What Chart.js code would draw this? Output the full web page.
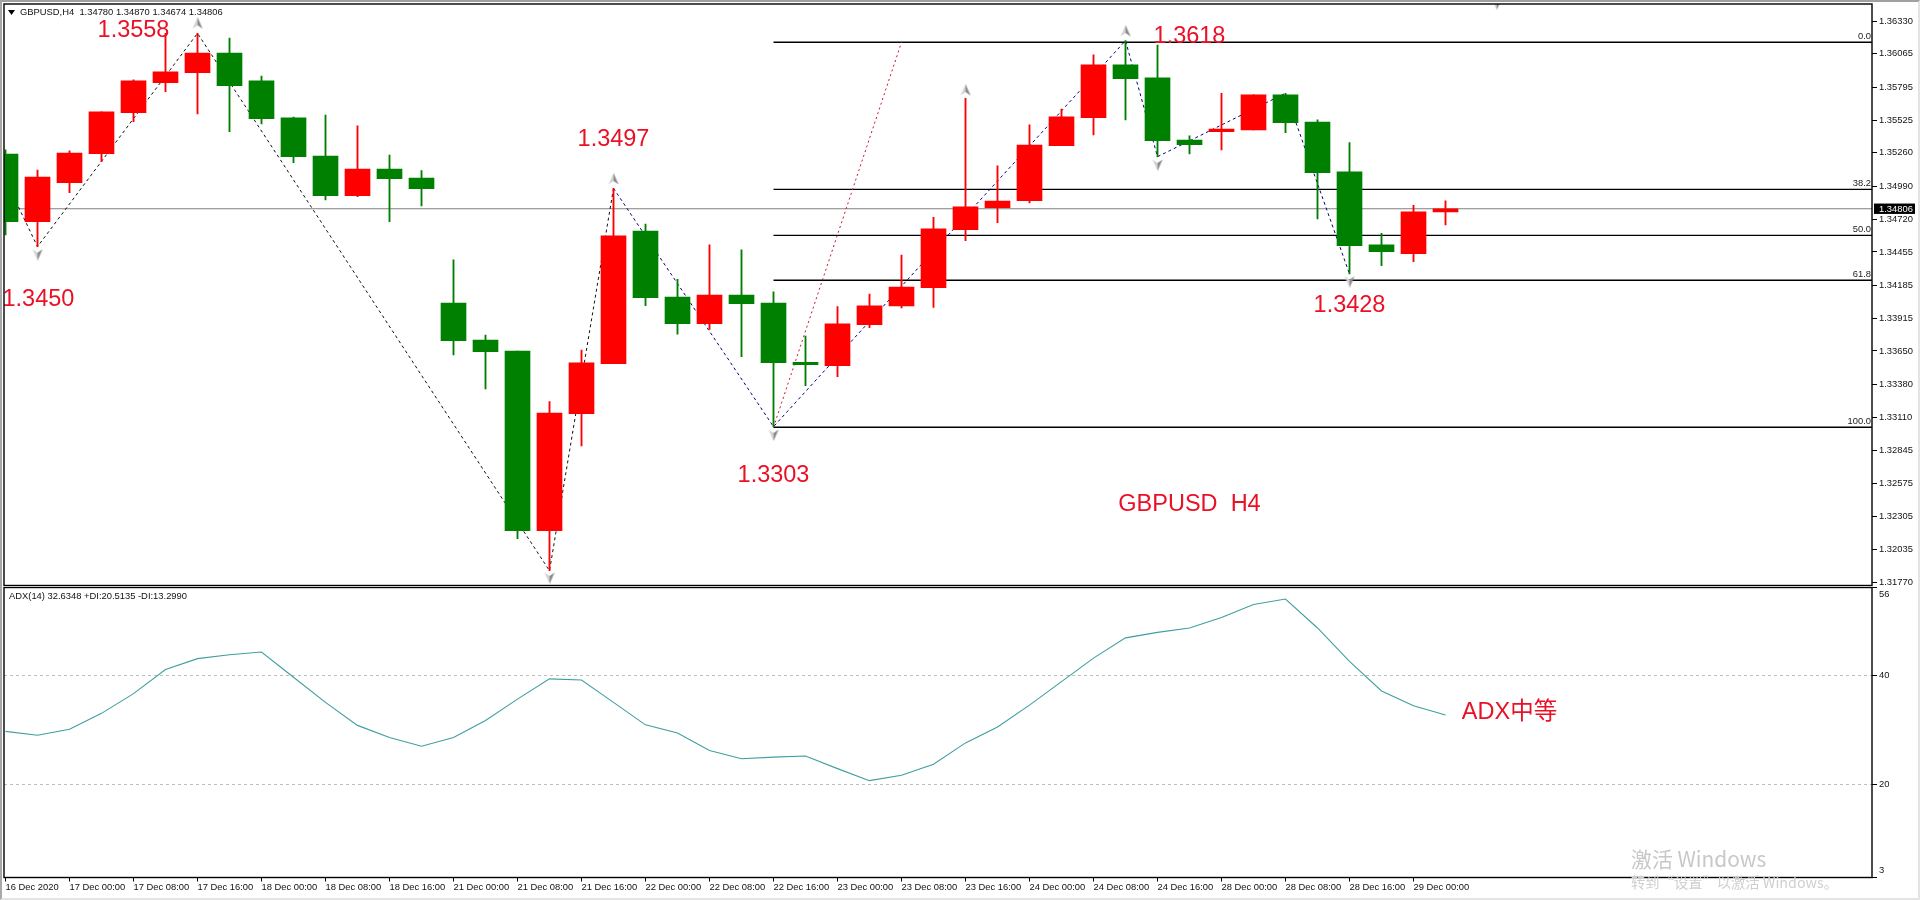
<!DOCTYPE html>
<html>
<head>
<meta charset="utf-8">
<title>GBPUSD H4</title>
<script src="https://cdn.jsdelivr.net/npm/chart.js@4/dist/chart.umd.js"></script>
<style>
html,body{margin:0;padding:0;background:#fff;overflow:hidden;width:1920px;height:900px}
canvas{position:absolute;left:0;display:block}
#c1{top:0}
#c2{top:586px}
#edge{position:absolute;left:0;top:0;width:1920px;height:900px;box-sizing:border-box;pointer-events:none;
border-top:2px solid #a0a0a0;border-left:2px solid #a8a8a8;border-right:2px solid #e4e4e4;border-bottom:2px solid #e4e4e4}
</style>
</head>
<body>
<canvas id="c1" width="1920" height="586"></canvas>
<canvas id="c2" width="1920" height="314"></canvas>
<div id="edge"></div>
<script>
// ---- data ----
const opens  = [1.35251,1.34701,1.35018,1.35254,1.35587,1.35831,1.35912,1.36072,1.35845,1.35544,1.35235,1.34912,1.35129,1.35056,1.34040,1.33739,1.33650,1.32189,1.33140,1.33547,1.34625,1.34089,1.33872,1.34105,1.34040,1.33558,1.33531,1.33864,1.34016,1.34165,1.34636,1.34815,1.34872,1.35319,1.35546,1.35975,1.35869,1.35365,1.35433,1.35446,1.35731,1.35511,1.35105,1.34512,1.34441,1.34780];
const highs  = [1.35284,1.35121,1.35276,1.35593,1.35853,1.36232,1.36232,1.36194,1.35885,1.35550,1.35568,1.35479,1.35243,1.35116,1.34390,1.33780,1.33650,1.33238,1.33658,1.34972,1.34682,1.34233,1.34512,1.34473,1.34130,1.33772,1.34010,1.34113,1.34430,1.34737,1.35704,1.35154,1.35487,1.35615,1.36056,1.36172,1.36137,1.35398,1.35745,1.35731,1.35745,1.35528,1.35343,1.34607,1.34834,1.34870];
const lows   = [1.34593,1.34498,1.34937,1.35189,1.35514,1.35758,1.35576,1.35433,1.35495,1.35181,1.34877,1.34904,1.34701,1.34829,1.33618,1.33341,1.32124,1.31864,1.32878,1.33547,1.34018,1.33786,1.33826,1.33604,1.33035,1.33368,1.33441,1.33839,1.34000,1.34004,1.34547,1.34693,1.34853,1.35319,1.35406,1.35528,1.35229,1.35251,1.35284,1.35446,1.35424,1.34723,1.34276,1.34343,1.34376,1.34674];
const closes = [1.34701,1.35064,1.35259,1.35593,1.35845,1.35918,1.36072,1.35806,1.35538,1.35229,1.34912,1.35129,1.35051,1.34969,1.33734,1.33644,1.32189,1.33146,1.33553,1.34585,1.34083,1.33872,1.34105,1.34035,1.33555,1.33539,1.33870,1.34016,1.34170,1.34642,1.34821,1.34869,1.35324,1.35552,1.35975,1.35863,1.35359,1.35327,1.35454,1.35731,1.35506,1.35099,1.34506,1.34457,1.34780,1.34806];
const adxValues = [29.7,29.0,30.1,33.0,36.6,41.0,43.0,43.7,44.2,39.6,35.0,30.8,28.6,27.0,28.6,31.7,35.6,39.3,39.1,35.0,30.9,29.4,26.2,24.7,25.0,25.2,22.9,20.7,21.7,23.7,27.6,30.5,34.5,38.8,43.1,46.8,47.8,48.6,50.5,52.9,53.9,48.6,42.5,37.1,34.4,32.7];
const dateLabels = ["16 Dec 2020","17 Dec 00:00","17 Dec 08:00","17 Dec 16:00","18 Dec 00:00","18 Dec 08:00","18 Dec 16:00","21 Dec 00:00","21 Dec 08:00","21 Dec 16:00","22 Dec 00:00","22 Dec 08:00","22 Dec 16:00","23 Dec 00:00","23 Dec 08:00","23 Dec 16:00","24 Dec 00:00","24 Dec 08:00","24 Dec 16:00","28 Dec 00:00","28 Dec 08:00","28 Dec 16:00","29 Dec 00:00"];
const priceTicks = [1.36330,1.36065,1.35795,1.35525,1.35260,1.34990,1.34720,1.34455,1.34185,1.33915,1.33650,1.33380,1.33110,1.32845,1.32575,1.32305,1.32035,1.31770];
const adxTicks = [56,40,20,3];
const adxLevels = [40,20];
const zigzagBlackBars = [0,1,6,17,19];
const zigzagBlackPrices = [1.35040,1.34498,1.36232,1.31864,1.34972];
const zigzagNavyBars = [19,24,35,36,40,42];
const zigzagNavyPrices = [1.34972,1.33035,1.36172,1.35229,1.35745,1.34276];
const fibTrendBars = [24,28];
const fibTrendPrices = [1.33030,1.36159];
const fibNames = ["0.0","38.2","50.0","61.8","100.0"];
const fibPrices = [1.36159,1.34964,1.34590,1.34225,1.33030];
const fibStartBar = 24;
const upArrowBars = [6,19,30,35];
const upArrowPrices = [1.36314,1.35048,1.35771,1.36251];
const downArrowBars = [1,17,24,36,42,46.6];
const downArrowPrices = [1.34433,1.31805,1.32967,1.35162,1.34213,1.3647];
const noteTexts = ["1.3558","1.3450","1.3497","1.3303","1.3618","1.3428","GBPUSD  H4"];
const noteBars = [4,1.03,19,24,37,42,37];
const notePrices = [1.36255,1.34065,1.35365,1.32638,1.36206,1.34020,1.32405];
const adxNoteText = "ADX中等";
const adxNoteBar = 47;
const adxNoteValue = 33.1;
const headerText = "GBPUSD,H4  1.34780 1.34870 1.34674 1.34806";
const adxHeaderText = "ADX(14) 32.6348 +DI:20.5135 -DI:13.2990";
const watermarkTexts = ["激活 Windows","转到“设置”以激活 Windows。"];
const xMin = -0.047, xMax = 58.328;
const priceMin = 1.31744, priceMax = 1.3647;
const adxMin = 3, adxMax = 56;

// ---- styling ----
const RED = '#ff0000', GREEN = '#008000', NOTE_RED = '#ea1026';
const SMALL = "'Liberation Sans',Arial,sans-serif";
const SMALL_FONT = "9.4px "+SMALL;
const NOTE_FONT = "23.5px 'Liberation Sans',Arial,sans-serif";
const CJK_FONT = "23.5px 'Liberation Sans','Noto Sans CJK SC',sans-serif";
Chart.defaults.font.family = SMALL;
Chart.defaults.font.size = 9.4;
Chart.defaults.color = '#000';

function pairs(xs, ys){ return xs.map((x,i)=>({x:x,y:ys[i]})); }
function arrowSprite(up){
  const c = document.createElement('canvas'); c.width = 12; c.height = 12;
  const g = c.getContext('2d');
  if(!up){ g.translate(0,12); g.scale(1,-1); }
  g.fillStyle = '#d2d2d2';
  g.beginPath(); g.moveTo(6,0); g.lineTo(6,8); g.lineTo(1,11.5); g.closePath(); g.fill();
  g.fillStyle = '#8a8a8a';
  g.beginPath(); g.moveTo(6,0); g.lineTo(6,8); g.lineTo(11,11.5); g.closePath(); g.fill();
  return c;
}
const candleColors = closes.map((c,i)=> c>=opens[i] ? RED : GREEN);
const noPad = s => { s.paddingTop=0; s.paddingBottom=0; s.paddingLeft=0; s.paddingRight=0; };

function text(ctx, str, x, y, font, color, align){
  ctx.save(); ctx.font=font; ctx.fillStyle=color; ctx.textAlign=align||'left'; ctx.textBaseline='middle';
  ctx.fillText(str,x,y); ctx.restore();
}
function frame(chart){
  const a = chart.chartArea, ctx = chart.ctx;
  ctx.save(); ctx.strokeStyle='#000'; ctx.lineWidth=1.4;
  ctx.strokeRect(a.left,a.top,a.right-a.left,a.bottom-a.top); ctx.restore();
}

const mainOverlay = {
  id:'mainOverlay',
  afterDatasetsDraw(chart){
    const ctx=chart.ctx, xs=chart.scales.x, ys=chart.scales.y, a=chart.chartArea;
    fibNames.forEach((n,i)=> text(ctx,n,a.right-1,ys.getPixelForValue(fibPrices[i])-5.5,SMALL_FONT,'#222','right'));
    noteTexts.forEach((t,i)=> text(ctx,t,xs.getPixelForValue(noteBars[i]),ys.getPixelForValue(notePrices[i]),NOTE_FONT,NOTE_RED,'center'));
    ctx.save(); ctx.fillStyle='#000'; ctx.beginPath(); ctx.moveTo(8,10); ctx.lineTo(15,10); ctx.lineTo(11.5,15); ctx.closePath(); ctx.fill(); ctx.restore();
    text(ctx,headerText,20,12.7,SMALL_FONT,'#111');
  },
  afterDraw(chart){
    frame(chart);
    const ctx=chart.ctx, ys=chart.scales.y, p=ys.getPixelForValue(closes[closes.length-1]), a=chart.chartArea;
    ctx.save(); ctx.fillStyle='#000'; ctx.fillRect(a.right+2,p-5.2,41,10.4); ctx.restore();
    text(ctx,closes[closes.length-1].toFixed(5),a.right+7,p+0.3,SMALL_FONT,'#fff');
  }
};

const adxOverlay = {
  id:'adxOverlay',
  beforeDraw(chart){
    const items = chart.scales.y.getLabelItems();
    items.forEach(it=>{
      if(it.label==='56') it.options.translation[1]+=7;
      if(it.label==='3') it.options.translation[1]-=7;
    });
  },
  afterDatasetsDraw(chart){
    const ctx=chart.ctx, xs=chart.scales.x, ys=chart.scales.y;
    text(ctx,adxHeaderText,9,10.7,SMALL_FONT,'#111');
    text(ctx,adxNoteText,xs.getPixelForValue(adxNoteBar),ys.getPixelForValue(adxNoteValue),CJK_FONT,NOTE_RED,'center');
  },
  afterDraw(chart){
    frame(chart);
    const ctx=chart.ctx;
    text(ctx,watermarkTexts[0],1631,273,"20.9px 'Noto Sans CJK SC','Noto Sans',sans-serif",'#c8c8c8');
    text(ctx,watermarkTexts[1],1631,297,"14.3px 'Noto Sans CJK SC','Noto Sans',sans-serif",'#cfcfcf');
  }
};

const bars = opens.map((_,i)=>i);
const lineBase = {type:'line',pointRadius:0,pointHoverRadius:0,fill:false,tension:0};

new Chart(document.getElementById('c1'),{
  type:'bar',
  plugins:[mainOverlay],
  data:{datasets:[
    {label:'bodies',type:'bar',order:2,grouped:false,barThickness:25,borderWidth:0,borderSkipped:false,
     data:bars.map(i=>({x:i,y:[opens[i],closes[i]]})),backgroundColor:candleColors},
    {label:'wicks',type:'bar',order:3,grouped:false,barThickness:1.2,borderWidth:0,borderSkipped:false,
     data:bars.map(i=>({x:i,y:[lows[i],highs[i]]})),backgroundColor:candleColors},
    {...lineBase,label:'zigzag',order:4,borderColor:'#111',borderWidth:1,borderDash:[3,3],data:pairs(zigzagBlackBars,zigzagBlackPrices)},
    {...lineBase,label:'zigzag2',order:4,borderColor:'#000080',borderWidth:1,borderDash:[3,3],data:pairs(zigzagNavyBars,zigzagNavyPrices)},
    {...lineBase,label:'fib trend',order:5,borderColor:'#c8142c',borderWidth:1,borderDash:[2,3],data:pairs(fibTrendBars,fibTrendPrices)},
    ...fibNames.map((n,k)=>({...lineBase,label:'fib '+n,order:6,borderColor:'#000',borderWidth:1.3,data:[{x:fibStartBar,y:fibPrices[k]},{x:xMax,y:fibPrices[k]}]})),
    {...lineBase,label:'bid',order:7,borderColor:'#808080',borderWidth:1.2,data:[{x:xMin,y:closes[closes.length-1]},{x:xMax,y:closes[closes.length-1]}]},
    {...lineBase,label:'up arrows',order:1,showLine:false,pointRadius:6,pointStyle:arrowSprite(true),data:pairs(upArrowBars,upArrowPrices)},
    {...lineBase,label:'down arrows',order:1,showLine:false,pointRadius:6,pointStyle:arrowSprite(false),data:pairs(downArrowBars,downArrowPrices)}
  ]},
  options:{
    responsive:false,animation:false,devicePixelRatio:1,events:[],
    layout:{autoPadding:false,padding:{left:4,top:4,right:0,bottom:0.5}},
    plugins:{legend:{display:false},tooltip:{enabled:false},title:{display:false}},
    scales:{
      x:{type:'linear',display:false,min:xMin,max:xMax,offset:false},
      y:{type:'linear',position:'right',min:priceMin,max:priceMax,
         afterBuildTicks:s=>{s.ticks=priceTicks.map(v=>({value:v}));},
         afterFit:s=>{s.width=48;noPad(s);},
         grid:{drawOnChartArea:false,color:'#000',tickColor:'#000',tickLength:5,lineWidth:1},
         border:{display:false},
         ticks:{autoSkip:false,padding:2,color:'#111',callback:v=>Number(v).toFixed(5)}}
    }
  }
});

new Chart(document.getElementById('c2'),{
  type:'line',
  plugins:[adxOverlay],
  data:{datasets:[
    {...lineBase,label:'ADX(14)',borderColor:'#3f9f9f',borderWidth:1.1,data:pairs(bars,adxValues)}
  ]},
  options:{
    responsive:false,animation:false,devicePixelRatio:1,events:[],
    layout:{autoPadding:false,padding:{left:4,top:1.5,right:0,bottom:0}},
    plugins:{legend:{display:false},tooltip:{enabled:false},title:{display:false}},
    scales:{
      x:{type:'linear',position:'bottom',min:xMin,max:xMax,
         afterBuildTicks:s=>{s.ticks=dateLabels.map((_,i)=>({value:i*2}));},
         afterFit:s=>{s.height=22.5;noPad(s);},
         grid:{drawOnChartArea:false,color:'#000',tickColor:'#000',tickLength:4},
         border:{display:false},
         ticks:{autoSkip:false,maxRotation:0,minRotation:0,align:'start',padding:0,color:'#111',callback:v=>dateLabels[v/2]}},
      y:{type:'linear',position:'right',min:adxMin,max:adxMax,
         afterBuildTicks:s=>{s.ticks=adxTicks.map(v=>({value:v}));},
         afterFit:s=>{s.width=48;noPad(s);},
         grid:{color:c=>adxLevels.includes(c.tick&&c.tick.value)?'#bdbdbd':'rgba(0,0,0,0)',tickColor:'#000',tickLength:5,lineWidth:1},
         border:{display:false,dash:[3,3]},
         ticks:{autoSkip:false,padding:2,color:'#111',callback:v=>String(v)}}
    }
  }
});
</script>
</body>
</html>
